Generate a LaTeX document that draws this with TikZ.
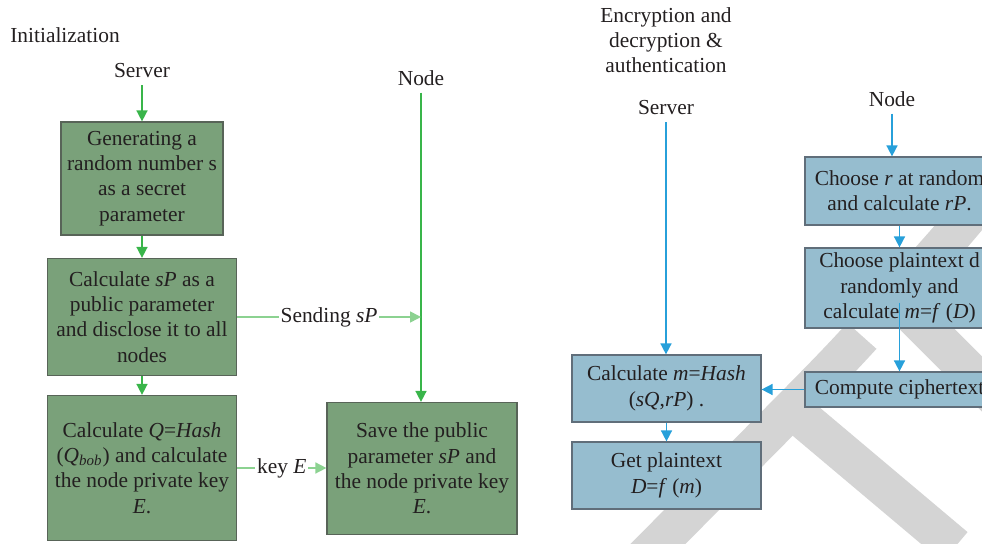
\documentclass[tikz,border=0pt]{standalone}
\usepackage{fontspec}
\setmainfont{Liberation Serif}
\usetikzlibrary{arrows.meta}
\definecolor{gfill}{RGB}{122,161,122}
\definecolor{gedge}{RGB}{88,100,88}
\definecolor{bfill}{RGB}{150,189,207}
\definecolor{bedge}{RGB}{96,110,122}
\definecolor{garrow}{RGB}{57,181,74}
\definecolor{lgarrow}{RGB}{140,210,145}
\definecolor{barrow}{RGB}{39,160,218}
\definecolor{wmark}{RGB}{212,212,212}
\definecolor{ink}{RGB}{35,31,32}

\begin{document}
\begin{tikzpicture}[x=0.5pt, y=-0.5pt, >={Triangle[length=5.5pt,width=5.5pt]},
    font=\fontsize{10.7}{12.65}\selectfont, text=ink,
    gbox/.style={draw=gedge, fill=gfill, line width=0.6pt, align=center, inner sep=0pt},
    bbox/.style={draw=bedge, fill=bfill, line width=0.6pt, align=center, inner sep=0pt,
      minimum width=94.5pt},
    garr/.style={->, draw=garrow, line width=0.8pt},
    lgarr/.style={->, draw=lgarrow, line width=0.8pt},
    barr/.style={->, draw=barrow, line width=0.8pt},
    lbl/.style={fill=white, inner sep=1pt}]
  \useasboundingbox (0,0) rectangle (982,544);
  % watermark behind the right half
  \draw[wmark, line width=19.5pt] plot[smooth] coordinates {(640,562) (766,435) (847,352) (941,248) (990,190)};
  \draw[white, line width=16.5pt] (840,294) -- (905,352);
  \draw[wmark, line width=19.5pt] (790,408) -- (955,547);
  \draw[wmark, line width=19.5pt] (890,292) -- (1030,432);

  % initialization
  \node (init) at (65,35) {Initialization};
  \node (srvL) at (142,71) {Server};
  \node[gbox, minimum width=81pt, minimum height=56.5pt] (gen) at (142,178.5)
    {Generating a\\random number s\\as a secret\\parameter};
  \node[gbox, minimum width=94.5pt, minimum height=58.5pt] (pub) at (142,317)
    {Calculate \textit{sP} as a\\public parameter\\and disclose it to all\\nodes};
  \node[gbox, minimum width=94.5pt, minimum height=72.5pt] (priv) at (142,468)
    {Calculate \textit{Q}=\textit{Hash}\\(\textit{Q}\textsubscript{\textit{bob}}) and calculate\\the node private key\\\textit{E}.};
  \node (nodeL) at (421,78) {Node};
  \node[gbox, minimum width=95pt, minimum height=66pt] (save) at (422,468.5)
    {Save the public\\parameter \textit{sP} and\\the node private key\\\textit{E}.};

  \draw[garr] (srvL) -- (gen);
  \draw[garr] (gen) -- (pub);
  \draw[garr] (pub) -- (priv);
  \draw[garr] (nodeL) -- (nodeL |- save.north);
  \draw[lgarr] (pub) -- node[lbl] {Sending \textit{sP}} (pub -| nodeL);
  \draw[lgarr] (priv.east) -- node[lbl] {key \textit{E}} (priv.east -| save.west);

  % encryption and decryption
  \node[align=center] (title) at (666,40) {Encryption and\\decryption \&\\authentication};
  \node (srvR) at (666,108) {Server};
  \node[bbox, minimum height=33.5pt] (hash) at (666.5,388.5)
    {Calculate \textit{m}=\textit{Hash}\\(\textit{sQ},\textit{rP}) .};
  \node[bbox, minimum height=33.5pt] (plain) at (666.5,475.5)
    {Get plaintext\\\textit{D}=\textit{f} (\textit{m})};
  \node (nodeR) at (892,99) {Node};
  \node[bbox, minimum height=34pt] (chr) at (899.5,191)
    {Choose \textit{r} at random\\and calculate \textit{rP}.};
  \node[bbox, minimum height=40pt] (chd) at (899.5,288)
    {Choose plaintext d\\randomly and\\calculate \textit{m}=\textit{f} (\textit{D})};
  \node[bbox, minimum height=17.5pt] (ciph) at (899.5,389.5) {Compute ciphertext};

  \draw[barr] (srvR) -- (srvR |- hash.north);
  \draw[barr] (hash) -- (plain);
  \draw[barr] (nodeR) -- (nodeR |- chr.north);
  \draw[barr] (chr) -- (chd);
  \draw[barr] ([yshift=13pt]chd.south) -- (ciph);
  \draw[barr] (ciph.west) -- (ciph.west -| hash.east);
\end{tikzpicture}
\end{document}
